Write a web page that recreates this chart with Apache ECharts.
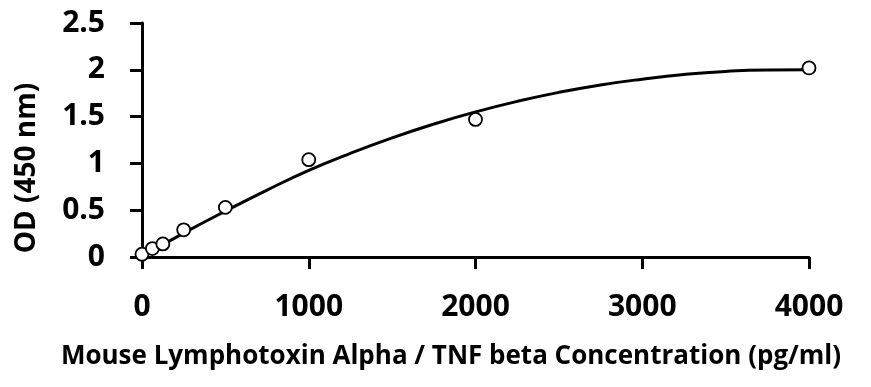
<!DOCTYPE html>
<html><head><meta charset="utf-8">
<script src="https://cdn.jsdelivr.net/npm/echarts@6/dist/echarts.min.js"></script>
<style>html,body{margin:0;padding:0;background:#fff}#c{width:871px;height:387px}</style>
</head><body><div id="c"></div>
<script>
const concentrations = [0, 62.5, 125, 250, 500, 1000, 2000, 4000];
const odValues = [0.03, 0.09, 0.14, 0.29, 0.53, 1.04, 1.47, 2.02];
const fitX = [0, 250, 500, 750, 1000, 1250, 1500, 1750, 2000, 2250, 2500, 2750, 3000, 3250, 3500, 3750, 4000];
const fitY = [0.005, 0.255, 0.49, 0.715, 0.925, 1.108, 1.273, 1.42, 1.55, 1.663, 1.759, 1.838, 1.90, 1.95, 1.983, 1.998, 2.0];
const xTicks = [0, 1000, 2000, 3000, 4000];
const yTicks = [0, 0.5, 1, 1.5, 2, 2.5];
const xTitle = 'Mouse Lymphotoxin Alpha / TNF beta Concentration (pg/ml)';
const yTitle = 'OD (450 nm)';

const FONT = '"Open Sans", "Noto Sans", sans-serif';
const chart = echarts.init(document.getElementById('c'), null, {renderer: 'canvas'});
const axisCommon = {
  axisLine: {show: true, lineStyle: {color: '#000', width: 3}},
  axisTick: {show: true, inside: false, length: 12, lineStyle: {color: '#000', width: 3}},
  splitLine: {show: false},
  axisLabel: {color: '#000', fontFamily: FONT, fontWeight: 'bold', fontSize: 30, formatter: v => String(v)}
};
chart.setOption({
  animation: false,
  backgroundColor: '#fff',
  grid: {left: 142, right: 62, top: 23, bottom: 130, containLabel: false},
  xAxis: Object.assign({}, axisCommon, {
    type: 'value', min: xTicks[0], max: xTicks[xTicks.length - 1], interval: xTicks[1] - xTicks[0],
    axisLabel: Object.assign({}, axisCommon.axisLabel, {margin: 35})
  }),
  yAxis: Object.assign({}, axisCommon, {
    type: 'value', min: yTicks[0], max: yTicks[yTicks.length - 1], interval: yTicks[1] - yTicks[0],
    axisLabel: Object.assign({}, axisCommon.axisLabel, {margin: 37})
  }),
  graphic: [
    {type: 'text', x: 451, y: 357, style: {text: xTitle, fill: '#000', font: 'bold 26px ' + FONT, textAlign: 'center', textVerticalAlign: 'middle'}},
    {type: 'text', x: 27, y: 168, rotation: Math.PI / 2, style: {text: yTitle, fill: '#000', font: 'bold 28px ' + FONT, textAlign: 'center', textVerticalAlign: 'middle'}}
  ],
  series: [
    {type: 'line', data: fitX.map((x, i) => [x, fitY[i]]), smooth: true, showSymbol: false,
     lineStyle: {color: '#000', width: 3}, z: 2},
    {type: 'scatter', data: concentrations.map((x, i) => [x, odValues[i]]), symbol: 'circle', symbolSize: 13,
     itemStyle: {color: '#fff', borderColor: '#000', borderWidth: 1.8, opacity: 1}, z: 3}
  ]
});
</script>
</body></html>
